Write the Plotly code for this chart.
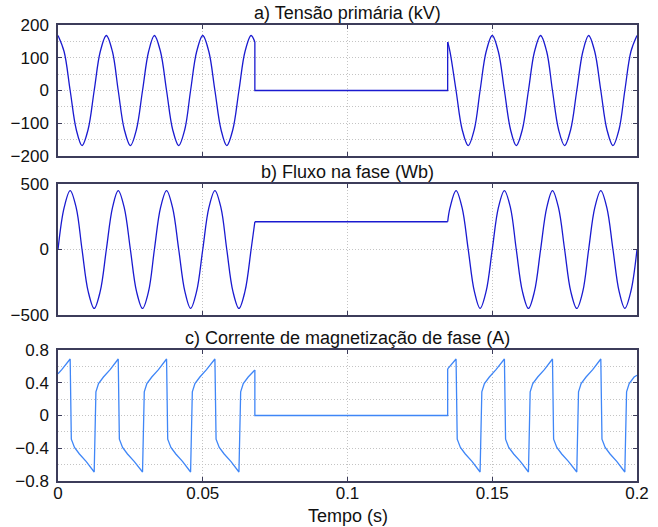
import plotly.graph_objects as go

# ---------------- data (time in s) ----------------
# a) primary voltage (kV)
volt_t1 = [0.0000, 0.0021, 0.0042, 0.0063, 0.0083, 0.0104, 0.0125, 0.0146,
           0.0167, 0.0188, 0.0208, 0.0229, 0.0250, 0.0271, 0.0292, 0.0313,
           0.0333, 0.0354, 0.0375, 0.0396, 0.0417, 0.0438, 0.0458, 0.0479,
           0.0500, 0.0521, 0.0542, 0.0563, 0.0583, 0.0604, 0.0625, 0.0646,
           0.0667, 0.0680]
volt_v1 = [168, 119, 0, -119, -168, -119, 0, 119,
           168, 119, 0, -119, -168, -119, 0, 119,
           168, 119, 0, -119, -168, -119, 0, 119,
           168, 119, 0, -119, -168, -119, 0, 119,
           168, 148]
volt_t2 = [0.1346, 0.1354, 0.1375, 0.1396, 0.1417, 0.1438, 0.1458, 0.1479,
           0.1500, 0.1521, 0.1542, 0.1563, 0.1583, 0.1604, 0.1625, 0.1646,
           0.1667, 0.1688, 0.1708, 0.1729, 0.1750, 0.1771, 0.1792, 0.1813,
           0.1833, 0.1854, 0.1875, 0.1896, 0.1917, 0.1938, 0.1958, 0.1979,
           0.2000]
volt_v2 = [148,
           119, 0, -119, -168, -119, 0, 119, 168,
           119, 0, -119, -168, -119, 0, 119, 168,
           119, 0, -119, -168, -119, 0, 119, 168,
           119, 0, -119, -168, -119, 0, 119, 168]
volt_off = 0

# b) phase flux (Wb)
flux_t1 = volt_t1
flux_v1 = [0, 318, 450, 318, 0, -318, -450, -318,
           0, 318, 450, 318, 0, -318, -450, -318,
           0, 318, 450, 318, 0, -318, -450, -318,
           0, 318, 450, 318, 0, -318, -450, -318,
           0, 212]
flux_t2 = volt_t2
flux_v2 = [212,
           318, 450, 318, 0, -318, -450, -318, 0,
           318, 450, 318, 0, -318, -450, -318, 0,
           318, 450, 318, 0, -318, -450, -318, 0,
           318, 450, 318, 0, -318, -450, -318, 0]
flux_hold = 212

# c) phase magnetizing current (A)
cur_t1 = [0.0000, 0.0013,
          0.0042, 0.0046, 0.0057, 0.0074, 0.0097, 0.0125, 0.0131, 0.0140, 0.0157, 0.0180,
          0.0208, 0.0212, 0.0223, 0.0240, 0.0263, 0.0292, 0.0298, 0.0307, 0.0324, 0.0347,
          0.0375, 0.0379, 0.0390, 0.0407, 0.0430, 0.0458, 0.0464, 0.0473, 0.0490, 0.0513,
          0.0542, 0.0546, 0.0557, 0.0574, 0.0597, 0.0625, 0.0631, 0.0640, 0.0657, 0.0680]
cur_v1 = [0.51, 0.56,
          0.69, -0.29, -0.39, -0.47, -0.56, -0.69, 0.29, 0.39, 0.47, 0.56,
          0.69, -0.29, -0.39, -0.47, -0.56, -0.69, 0.29, 0.39, 0.47, 0.56,
          0.69, -0.29, -0.39, -0.47, -0.56, -0.69, 0.29, 0.39, 0.47, 0.56,
          0.69, -0.29, -0.39, -0.47, -0.56, -0.69, 0.29, 0.39, 0.47, 0.555]
cur_t2 = [0.1346,
          0.1375, 0.1379, 0.1390, 0.1407, 0.1430, 0.1458, 0.1464, 0.1473, 0.1490, 0.1513,
          0.1542, 0.1546, 0.1557, 0.1574, 0.1597, 0.1625, 0.1631, 0.1640, 0.1657, 0.1680,
          0.1708, 0.1712, 0.1723, 0.1740, 0.1763, 0.1792, 0.1798, 0.1807, 0.1824, 0.1847,
          0.1875, 0.1879, 0.1890, 0.1907, 0.1930, 0.1958, 0.1964, 0.1973, 0.1990, 0.2000]
cur_v2 = [0.57,
          0.69, -0.29, -0.39, -0.47, -0.56, -0.69, 0.29, 0.39, 0.47, 0.56,
          0.69, -0.29, -0.39, -0.47, -0.56, -0.69, 0.29, 0.39, 0.47, 0.56,
          0.69, -0.29, -0.39, -0.47, -0.56, -0.69, 0.29, 0.39, 0.47, 0.56,
          0.69, -0.29, -0.39, -0.47, -0.56, -0.69, 0.29, 0.39, 0.47, 0.49]
cur_off = 0

titles = ["a) Tensão primária (kV)", "b) Fluxo na fase (Wb)",
          "c) Corrente de magnetização de fase (A)"]
x_title = "Tempo (s)"

# ---------------- styling ----------------
DARK = "#1a1ad0"
LIGHT = "#3f86f7"
FRAME = "#3c3c5a"
GRID = "#c4c4c4"
GDASH = "1px,2px"
FONT = "Liberation Sans, Arial, sans-serif"

fig = go.Figure()


def add(t, v, ax, color, shape):
    fig.add_trace(go.Scatter(x=t, y=v, mode="lines", xaxis="x" + ax, yaxis="y" + ax,
                             line=dict(color=color, width=1.3, shape=shape),
                             showlegend=False, hoverinfo="skip"))


def add_series(t1, v1, t2, v2, hold, ax, color, shape):
    add(t1, v1, ax, color, shape)
    add([t1[-1], t1[-1], t2[0], t2[0]], [v1[-1], hold, hold, v2[0]], ax, color, "linear")
    add(t2, v2, ax, color, shape)


add_series(volt_t1, volt_v1, volt_t2, volt_v2, volt_off, "", DARK, "spline")
add_series(flux_t1, flux_v1, flux_t2, flux_v2, flux_hold, "2", DARK, "spline")
add_series(cur_t1, cur_v1, cur_t2, cur_v2, cur_off, "3", LIGHT, "linear")

xcommon = dict(range=[0, 0.2], dtick=0.05, showgrid=True, gridcolor=GRID, griddash=GDASH,
               gridwidth=1, zeroline=False, showline=True, linecolor=FRAME, linewidth=1.5,
               mirror="ticks", ticks="inside", ticklen=4, tickcolor=FRAME, automargin=False,
               tickfont=dict(family=FONT, size=17, color="#111"))
ycommon = dict(showgrid=True, gridcolor=GRID, griddash=GDASH, gridwidth=1, zeroline=False,
               showline=True, linecolor=FRAME, linewidth=1.5, mirror="ticks", automargin=False,
               ticks="inside", ticklen=4, tickcolor=FRAME, ticklabelstandoff=4,
               tickfont=dict(family=FONT, size=17, color="#111"))

doms = [[0.7127, 1.0], [0.364, 0.6513], [0.0, 0.2873]]

fig.update_layout(
    width=658, height=527,
    margin=dict(l=58, r=21, t=25, b=46, autoexpand=False),
    paper_bgcolor="white", plot_bgcolor="white",
    xaxis=dict(**xcommon, anchor="y", showticklabels=False),
    xaxis2=dict(**xcommon, anchor="y2", matches="x", showticklabels=False),
    xaxis3=dict(**xcommon, anchor="y3", matches="x", ticklabelstandoff=-4),
    yaxis=dict(**ycommon, domain=doms[0], range=[-200, 200], dtick=100,
               minor=dict(dtick=50, showgrid=True, gridcolor=GRID, griddash=GDASH)),
    yaxis2=dict(**ycommon, domain=doms[1], range=[-500, 500], tickvals=[-500, 0, 500]),
    yaxis3=dict(**ycommon, domain=doms[2], range=[-0.8, 0.8], dtick=0.4,
                minor=dict(dtick=0.2, showgrid=True, gridcolor=GRID, griddash=GDASH)),
)

for title, dom in zip(titles, doms):
    fig.add_annotation(text=title, xref="paper", yref="paper", x=0.5, y=dom[1],
                       xanchor="center", yanchor="bottom", yshift=0, showarrow=False,
                       font=dict(family=FONT, size=18, color="#111"))

fig.add_annotation(text=x_title, xref="paper", yref="paper", x=0.5, y=0,
                   xanchor="center", yanchor="middle", yshift=-35, showarrow=False,
                   font=dict(family=FONT, size=18, color="#111"))

fig.write_html("out.html")
